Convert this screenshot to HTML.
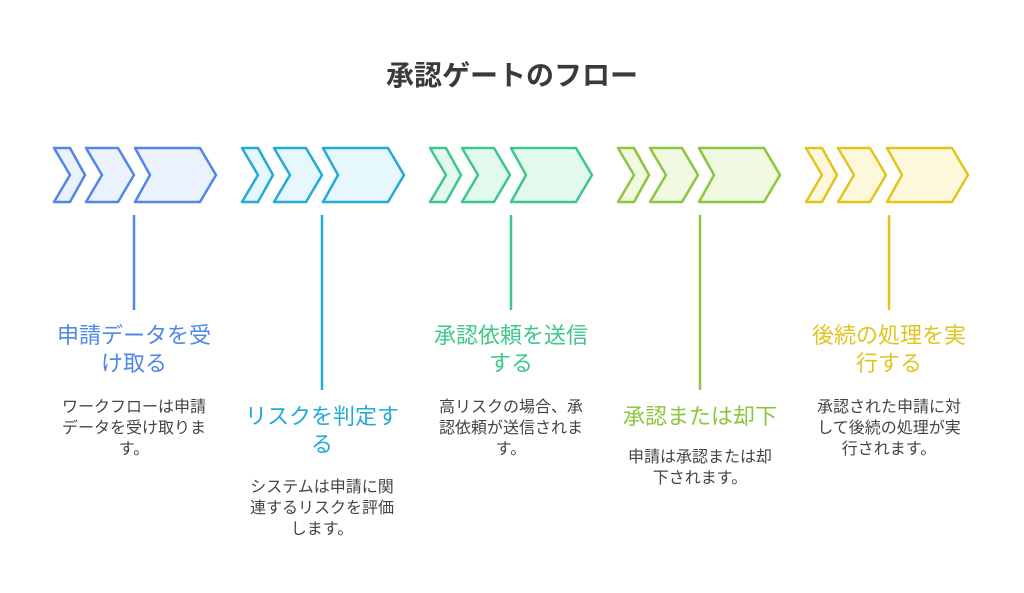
<!DOCTYPE html>
<html><head><meta charset="utf-8"><style>
html,body{margin:0;padding:0;background:#fff;}
svg{display:block;}
text{font-family:"Liberation Sans","Noto Sans CJK JP",sans-serif;}
.t{font-size:22px;text-anchor:middle;}
.d{font-size:16px;fill:#444;text-anchor:middle;}
</style></head><body>
<svg width="1024" height="593" viewBox="0 0 1024 593" xmlns="http://www.w3.org/2000/svg">
<rect width="1024" height="593" fill="#fff"/>
<text x="512" y="85" text-anchor="middle" style="font-size:28px;font-weight:bold;fill:#3a3a3a">承認ゲートのフロー</text>
<defs>
<g id="ch">
<polygon points="0,0 16,0 31,27 16,54 0,54 16,27"/>
<polygon points="32,0 64,0 80,27 64,54 32,54 48,27"/>
<polygon points="81,0 146,0 162,27 146,54 81,54 96,27"/>
</g>
</defs>
<g stroke-width="2.5" stroke-linejoin="round">
<use href="#ch" x="54" y="148" fill="#ecf2fd" stroke="#5087e8"/>
<use href="#ch" x="242" y="148" fill="#e6f7fd" stroke="#22aad8"/>
<use href="#ch" x="430" y="148" fill="#e3f9ee" stroke="#3cc889"/>
<use href="#ch" x="618" y="148" fill="#f1f9e3" stroke="#8cc63c"/>
<use href="#ch" x="806" y="148" fill="#fdf8dc" stroke="#e1c51c"/>
</g>
<g stroke-width="2.5">
<line x1="134" y1="215" x2="134" y2="310" stroke="#5087e8"/>
<line x1="322" y1="215" x2="322" y2="390" stroke="#22aad8"/>
<line x1="511" y1="215" x2="511" y2="310" stroke="#3cc889"/>
<line x1="700" y1="215" x2="700" y2="390" stroke="#8cc63c"/>
<line x1="889" y1="215" x2="889" y2="310" stroke="#e1c51c"/>
</g>
<text class="t" x="134" y="343" fill="#5087e8">申請データを受</text>
<text class="t" x="134" y="371" fill="#5087e8">け取る</text>
<text class="t" x="322" y="424" fill="#22aad8">リスクを判定す</text>
<text class="t" x="322" y="452" fill="#22aad8">る</text>
<text class="t" x="511" y="343" fill="#3cc889">承認依頼を送信</text>
<text class="t" x="511" y="371" fill="#3cc889">する</text>
<text class="t" x="700" y="424" fill="#8cc63c">承認または却下</text>
<text class="t" x="889" y="343" fill="#e1c51c">後続の処理を実</text>
<text class="t" x="889" y="371" fill="#e1c51c">行する</text>
<text class="d" x="134" y="412">ワークフローは申請</text>
<text class="d" x="134" y="433">データを受け取りま</text>
<text class="d" x="134" y="454">す。</text>
<text class="d" x="322" y="492">システムは申請に関</text>
<text class="d" x="322" y="513">連するリスクを評価</text>
<text class="d" x="322" y="534">します。</text>
<text class="d" x="511" y="412">高リスクの場合、承</text>
<text class="d" x="511" y="433">認依頼が送信されま</text>
<text class="d" x="511" y="454">す。</text>
<text class="d" x="700" y="462">申請は承認または却</text>
<text class="d" x="700" y="483">下されます。</text>
<text class="d" x="889" y="412">承認された申請に対</text>
<text class="d" x="889" y="433">して後続の処理が実</text>
<text class="d" x="889" y="454">行されます。</text>
</svg>
</body></html>
